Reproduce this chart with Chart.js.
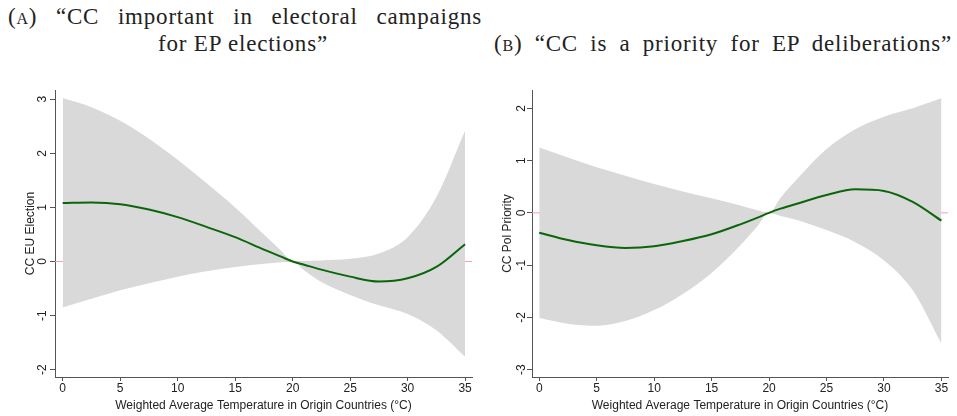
<!DOCTYPE html>
<html>
<head>
<meta charset="utf-8">
<script src="https://cdn.jsdelivr.net/npm/chart.js@4/dist/chart.umd.min.js"></script>
<style>
  html, body { margin: 0; padding: 0; background: #fff; }
  #page { position: relative; width: 957px; height: 416px; overflow: hidden; }
  .ttl { position: absolute; font-family: "Liberation Serif", serif; font-size: 23px; line-height: 23px; letter-spacing: 0.8px; color: #222; white-space: nowrap; }
  .just { text-align: justify; text-align-last: justify; white-space: normal; }
  .sc { font-variant: small-caps; }
  canvas { position: absolute; }
</style>
</head>
<body>
<div id="page">
  <div class="ttl just" style="left:8px; top:5px; width:474px;"><span class="sc">(a)</span> “CC important in electoral campaigns</div>
  <div class="ttl" style="left:0; top:32px; width:486px; text-align:center;">for EP elections”</div>
  <div class="ttl just" style="left:494px; top:32px; width:458px;"><span class="sc">(b)</span> “CC is a priority for EP deliberations”</div>
  <canvas id="electionChart" width="478" height="336" style="left:0; top:80px;"></canvas>
  <canvas id="priorityChart" width="479" height="336" style="left:478px; top:80px;"></canvas>
</div>
<script>
const temps = [0, 2.5, 5, 7.5, 10, 12.5, 15, 17.5, 19, 20, 21, 22.5, 25, 27.5, 30, 32.5, 35];
const xTicks = [0, 5, 10, 15, 20, 25, 30, 35];

// panel A: CC EU Election
const electionFit   = [1.08, 1.09, 1.06, 0.96, 0.82, 0.64, 0.45, 0.22, 0.09, 0.0, -0.06, -0.15, -0.28, -0.37, -0.31, -0.10, 0.32];
const electionUpper = [3.02, 2.85, 2.60, 2.27, 1.88, 1.45, 1.00, 0.50, 0.20, 0.0, 0.01, 0.02, 0.05, 0.15, 0.45, 1.19, 2.42];
const electionLower = [-0.85, -0.69, -0.53, -0.40, -0.28, -0.18, -0.10, -0.04, -0.015, 0.0, -0.16, -0.38, -0.62, -0.81, -0.97, -1.27, -1.76];
const electionYTicks = [-2, -1, 0, 1, 2, 3];

// panel B: CC Pol Priority
const priorityFit   = [-0.38, -0.52, -0.62, -0.67, -0.64, -0.54, -0.41, -0.22, -0.09, 0.0, 0.08, 0.18, 0.34, 0.45, 0.42, 0.21, -0.15];
const priorityUpper = [1.25, 1.06, 0.87, 0.71, 0.55, 0.41, 0.28, 0.14, 0.05, 0.0, 0.29, 0.66, 1.22, 1.60, 1.84, 2.00, 2.19];
const priorityLower = [-2.01, -2.12, -2.16, -2.07, -1.86, -1.55, -1.15, -0.62, -0.25, 0.0, -0.06, -0.14, -0.33, -0.56, -0.91, -1.48, -2.50];
const priorityYTicks = [-3, -2, -1, 0, 1, 2];

const axisClr = '#555555';
const labelClr = '#222222';
const sans = '"Liberation Sans", Arial, sans-serif';

function pts(ys) {
    return temps.map((t, i) => ({ x: t, y: ys[i] }));
}

function makeChart(id, cfg) {
    const ctx = document.getElementById(id).getContext('2d');
    return new Chart(ctx, {
        type: 'line',
        data: {
            datasets: [
                {
                    data: pts(cfg.fit),
                    borderColor: '#0b650b',
                    borderWidth: 2,
                    pointRadius: 0,
                    cubicInterpolationMode: 'monotone',
                    fill: false
                },
                {
                    data: pts(cfg.upper),
                    borderWidth: 0,
                    borderColor: 'rgba(0,0,0,0)',
                    backgroundColor: '#d9d9d9',
                    pointRadius: 0,
                    cubicInterpolationMode: 'monotone',
                    fill: '+1'
                },
                {
                    data: pts(cfg.lower),
                    borderWidth: 0,
                    borderColor: 'rgba(0,0,0,0)',
                    pointRadius: 0,
                    cubicInterpolationMode: 'monotone',
                    fill: false
                },
                {
                    data: [{ x: cfg.xMin, y: 0 }, { x: cfg.xMax, y: 0 }],
                    borderColor: '#f5a3a3',
                    borderWidth: 1,
                    pointRadius: 0,
                    fill: false
                }
            ]
        },
        options: {
            responsive: false,
            animation: false,
            layout: { padding: { top: 10, right: cfg.padRight, left: 0, bottom: 0 } },
            plugins: { legend: { display: false }, tooltip: { enabled: false } },
            scales: {
                x: {
                    type: 'linear',
                    min: cfg.xMin,
                    max: cfg.xMax,
                    afterBuildTicks: s => { s.ticks = xTicks.map(v => ({ value: v })); },
                    afterFit: s => { s.height = 39; },
                    ticks: { color: labelClr, padding: 0, maxRotation: 0, font: { family: sans, size: 12 } },
                    grid: { drawOnChartArea: false, tickLength: 4, color: axisClr },
                    border: { color: axisClr },
                    title: {
                        display: true,
                        text: 'Weighted Average Temperature in Origin Countries (°C)',
                        color: labelClr,
                        font: { family: sans, size: 12 },
                        padding: { top: 0, bottom: 3 }
                    }
                },
                y: {
                    type: 'linear',
                    min: cfg.yMin,
                    max: cfg.yMax,
                    afterBuildTicks: s => { s.ticks = cfg.yTicks.map(v => ({ value: v })); },
                    afterFit: s => { s.width = cfg.yWidth; },
                    ticks: {
                        color: labelClr,
                        minRotation: 90,
                        maxRotation: 90,
                        crossAlign: 'center',
                        padding: cfg.tickPad,
                        font: { family: sans, size: 12 }
                    },
                    grid: { drawOnChartArea: false, tickLength: 5, color: axisClr },
                    border: { color: axisClr },
                    title: {
                        display: true,
                        text: cfg.yTitle,
                        color: labelClr,
                        font: { family: sans, size: 12 },
                        padding: { top: cfg.titlePad, bottom: 0 }
                    }
                }
            }
        }
    });
}

const electionChart = makeChart('electionChart', {
    fit: electionFit, upper: electionUpper, lower: electionLower,
    yTicks: electionYTicks, yMin: -2.135, yMax: 3.17,
    xMin: -0.67, xMax: 35.6,
    yTitle: 'CC EU Election', yWidth: 55, padRight: 6, tickPad: 1.5, titlePad: 23.5
});

const priorityChart = makeChart('priorityChart', {
    fit: priorityFit, upper: priorityUpper, lower: priorityLower,
    yTicks: priorityYTicks, yMin: -3.14, yMax: 2.35,
    xMin: -0.63, xMax: 35.57,
    yTitle: 'CC Pol Priority', yWidth: 54, padRight: 9, tickPad: 0, titlePad: 22
});
</script>
</body>
</html>
